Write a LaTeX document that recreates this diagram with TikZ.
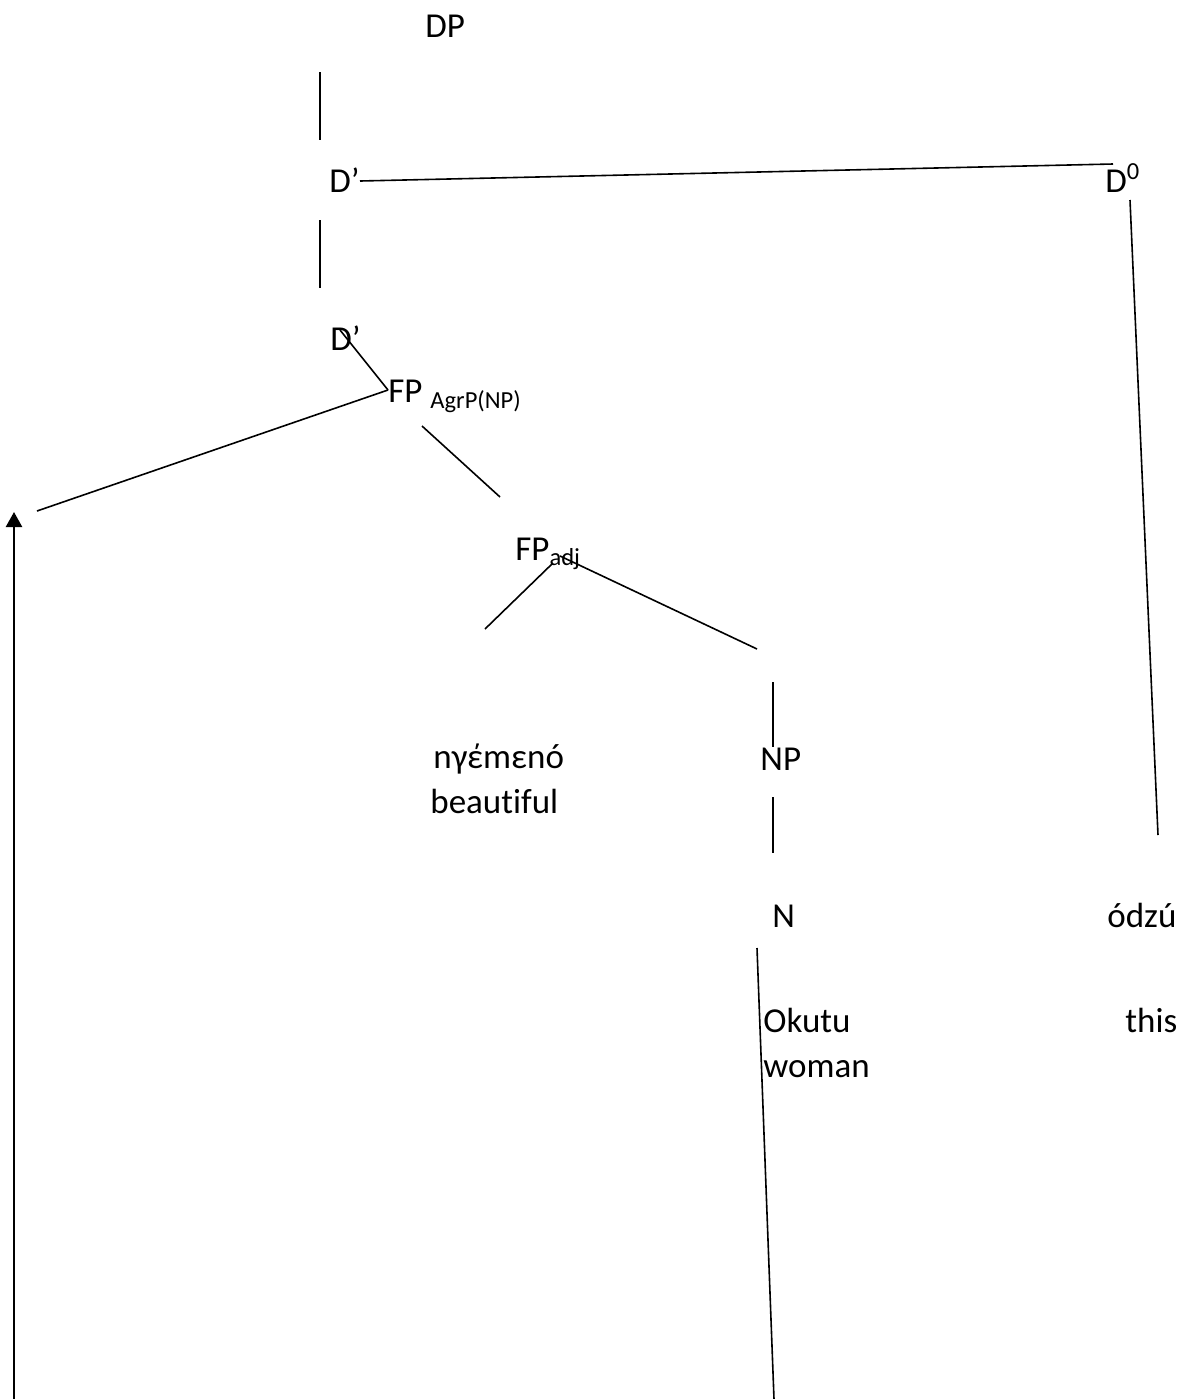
\documentclass[tikz,border=0pt]{standalone}
\usepackage{fontspec}
\setmainfont[Ligatures=NoCommon]{Carlito}
\usetikzlibrary{arrows.meta}

\begin{document}
\begin{tikzpicture}[
  x=0.5pt, y=-0.5pt,
  font=\fontsize{17.5}{21}\selectfont,
  >={Triangle[length=7.5pt, width=8pt]},
  lbl/.style={anchor=base west, inner sep=0pt},
  branch/.style={line width=0.8pt},
  move/.style={->, line width=1.2pt}
]
  \useasboundingbox (0,0) rectangle (1192,1399);

  % labels
  \node[lbl] (dp) at (425,37) {DP};
  \node[lbl] (dbar) at (329,192) {D’};
  \node[lbl] (dzero) at (1105,192) {D\textsuperscript{0}};
  \node[lbl] (dbarlow) at (330,350) {D’};
  \node[lbl] (fpagr) at (388,402) {FP \textsubscript{AgrP(NP)}};
  \node[lbl] (fpadj) at (515,560) {FP\textsubscript{adj}};
  \node[lbl] (adj) at (433,768) {nγέmεnó};
  \node[lbl] (adjgl) at (430,813) {beautiful};
  \node[lbl] (np) at (760,770) {NP};
  \node[lbl] (n) at (772,927) {N};
  \node[lbl] (dem) at (1107,927) {ódzú};
  \node[lbl] (noun) at (763,1032) {Okutu};
  \node[lbl] (demgl) at (1125,1032) {this};
  \node[lbl] (noungl) at (763,1077) {woman};

  % line ends
  \coordinate (dp-s) at (320,72);
  \coordinate (dbar-n) at (320,140);
  \coordinate (dbar-e) at (360,181);
  \coordinate (dzero-w) at (1113,164);
  \coordinate (dbar-s) at (320,220);
  \coordinate (dbarlow-n) at (320,288);
  \coordinate (dbarlow-e) at (340,330);
  \coordinate (fpagr-w) at (388,390);
  \coordinate (spec) at (37,511);
  \coordinate (fpagr-s) at (422,426);
  \coordinate (fpadj-n) at (500,497);
  \coordinate (fpadj-sw) at (553,563);
  \coordinate (adj-n) at (485,629);
  \coordinate (fpadj-se) at (560,556);
  \coordinate (np-ne) at (757,649);
  \coordinate (np-n1) at (773,682);
  \coordinate (np-n2) at (773,747);
  \coordinate (np-s) at (773,797);
  \coordinate (n-n) at (773,853);
  \coordinate (dzero-s) at (1130,200);
  \coordinate (dem-n) at (1158,835);
  \coordinate (n-s) at (757,948);
  \coordinate (trace) at (774,1399);
  \coordinate (arr-s) at (14,1399);
  \coordinate (arr-n) at (14,512);

  % branches
  \draw[branch] (dp-s) -- (dbar-n);
  \draw[branch] (dbar-e) -- (dzero-w);
  \draw[branch] (dbar-s) -- (dbarlow-n);
  \draw[branch] (dbarlow-e) -- (fpagr-w);
  \draw[branch] (fpagr-w) -- (spec);
  \draw[branch] (fpagr-s) -- (fpadj-n);
  \draw[branch] (fpadj-sw) -- (adj-n);
  \draw[branch] (fpadj-se) -- (np-ne);
  \draw[branch] (np-n1) -- (np-n2);
  \draw[branch] (np-s) -- (n-n);
  \draw[branch] (dzero-s) -- (dem-n);
  \draw[branch] (n-s) -- (trace);

  % movement
  \draw[move] (arr-s) -- (arr-n);
\end{tikzpicture}
\end{document}
